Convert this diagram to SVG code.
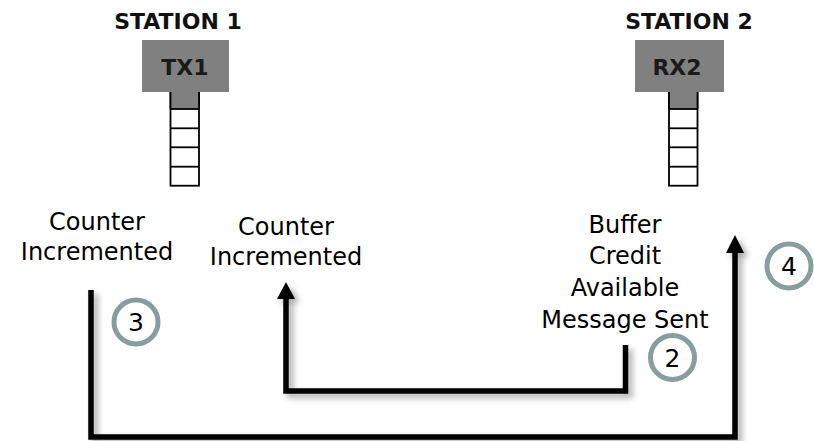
<svg xmlns="http://www.w3.org/2000/svg" width="814" height="441" viewBox="0 0 814 441">
<defs>
<style>
.st{font-family:"DejaVu Sans","Liberation Sans",sans-serif;font-weight:bold;font-size:22px;fill:#111;text-anchor:middle}
.bx{fill:#808080}
.bt{font-family:"DejaVu Sans","Liberation Sans",sans-serif;font-weight:bold;font-size:22px;fill:#1a1a1a;text-anchor:middle}
.stem{fill:#ffffff;stroke:#000;stroke-width:1.8}
.cell{stroke:#000;stroke-width:1.8}
.lb{font-family:"DejaVu Sans","Liberation Sans",sans-serif;font-size:24px;fill:#000;text-anchor:middle}
.ring{fill:#fff;stroke:#879e9f;stroke-width:5}
.num{font-family:"DejaVu Sans","Liberation Sans",sans-serif;font-size:25px;fill:#000;text-anchor:middle}
.ln{fill:none;stroke:#000;stroke-width:5.5;stroke-linejoin:miter;stroke-linecap:butt}
.ah{fill:#000}
</style>
<filter id="sh" x="-20%" y="-20%" width="140%" height="140%">
<feDropShadow dx="4" dy="4" stdDeviation="3" flood-color="#000" flood-opacity="0.35"/>
</filter>
</defs>
<rect width="814" height="441" fill="#fff"/>

<g id="station1">
<text class="st" x="178" y="29">STATION 1</text>
<rect class="stem" x="170.5" y="91" width="28.5" height="94.7"/>
<rect class="bx" x="170.5" y="91" width="28.5" height="18"/>
<line class="cell" x1="170.5" y1="91" x2="170.5" y2="109"/>
<line class="cell" x1="199" y1="91" x2="199" y2="109"/>
<line class="cell" x1="170.5" y1="109" x2="199" y2="109"/>
<line class="cell" x1="170.5" y1="128.3" x2="199" y2="128.3"/>
<line class="cell" x1="170.5" y1="147.3" x2="199" y2="147.3"/>
<line class="cell" x1="170.5" y1="166.7" x2="199" y2="166.7"/>
<rect class="bx" x="142" y="40" width="87" height="52"/>
<text class="bt" x="185" y="75">TX1</text>
</g>

<g id="station2">
<text class="st" x="689" y="29">STATION 2</text>
<rect class="stem" x="669" y="91" width="28.5" height="94.7"/>
<rect class="bx" x="669" y="91" width="28.5" height="18"/>
<line class="cell" x1="669" y1="91" x2="669" y2="109"/>
<line class="cell" x1="697.5" y1="91" x2="697.5" y2="109"/>
<line class="cell" x1="669" y1="109" x2="697.5" y2="109"/>
<line class="cell" x1="669" y1="128.3" x2="697.5" y2="128.3"/>
<line class="cell" x1="669" y1="147.3" x2="697.5" y2="147.3"/>
<line class="cell" x1="669" y1="166.7" x2="697.5" y2="166.7"/>
<rect class="bx" x="635" y="40" width="89" height="52"/>
<text class="bt" x="677" y="75">RX2</text>
</g>

<g id="label-counter1">
<text class="lb" x="97" y="230">Counter</text>
<text class="lb" x="97" y="260">Incremented</text>
</g>
<g id="label-counter2">
<text class="lb" x="286" y="235">Counter</text>
<text class="lb" x="286" y="265">Incremented</text>
</g>
<g id="label-buffer">
<text class="lb" x="625" y="233">Buffer</text>
<text class="lb" x="625" y="264">Credit</text>
<text class="lb" x="625" y="296">Available</text>
<text class="lb" x="625" y="328">Message Sent</text>
</g>

<g id="connectors" filter="url(#sh)">
<path class="ln" d="M625.5,345 V391 H286 V296"/>
<polygon class="ah" points="286,282 295,299 277,299"/>
<path class="ln" d="M91,290 V437 H735 V250"/>
<polygon class="ah" points="735,235 744,253 726,253"/>
</g>

<g id="step3">
<circle class="ring" cx="136" cy="322" r="22"/>
<text class="num" x="136" y="331">3</text>
</g>
<g id="step2">
<circle class="ring" cx="672.5" cy="357.5" r="22"/>
<text class="num" x="672.5" y="366.5">2</text>
</g>
<g id="step4">
<circle class="ring" cx="789" cy="266" r="22"/>
<text class="num" x="789" y="275">4</text>
</g>
</svg>
